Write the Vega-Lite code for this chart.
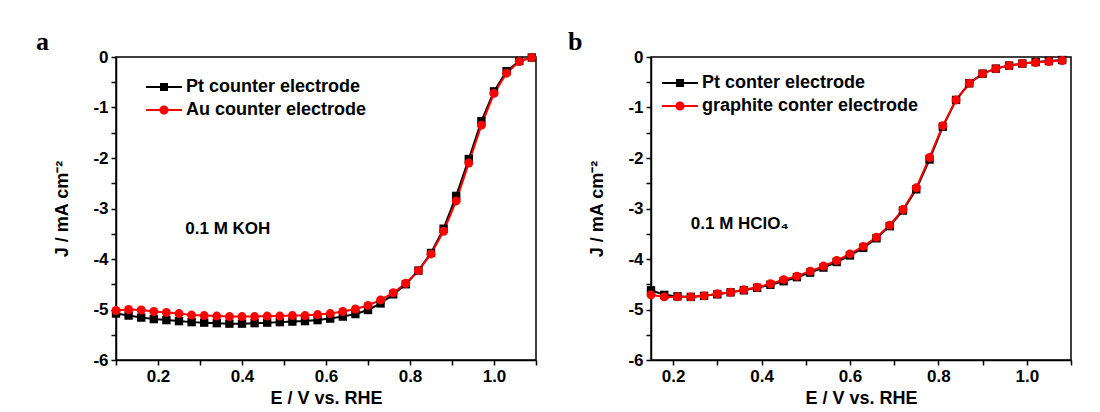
{
  "$schema": "https://vega.github.io/schema/vega-lite/v6.json",
  "background": "white",
  "autosize": {"type": "pad"},
  "padding": {"left": 35, "top": 28, "right": 5, "bottom": 0},
  "spacing": 115,
  "bounds": "flush",
  "resolve": {"scale": {"color": "independent", "x": "independent", "y": "independent"}, "legend": {"color": "independent"}},
  "config": {
    "font": "Liberation Sans",
    "view": {"stroke": "black", "strokeWidth": 1.5},
    "axis": {"grid": false, "domainColor": "black", "domainWidth": 1.5, "tickColor": "black", "tickWidth": 1.5, "tickSize": 5,
      "labelFont": "Liberation Sans", "labelFontWeight": "bold", "labelFontSize": 17, "labelColor": "black", "labelPadding": 3,
      "titleFont": "Liberation Sans", "titleFontWeight": "bold", "titleFontSize": 18, "titleColor": "black",
      "labelOverlap": false, "labelFlush": false},
    "legend": {"labelFont": "Liberation Sans", "labelFontWeight": "bold", "labelFontSize": 18, "labelColor": "black", "labelLimit": 500, "symbolSize": 400, "symbolStrokeWidth": 0, "rowPadding": 4, "labelOffset": 12, "padding": 0}
  },
  "hconcat": [
    {
      "width": 420, "height": 303,
      "title": {"text": "a", "anchor": "start", "frame": "group", "dx": -80, "offset": -7, "font": "Liberation Serif", "fontSize": 26, "fontWeight": "bold", "color": "black"},
      "data": {"values": [
        {"E":0.10,"J":-5.08,"s":"Pt counter electrode"},{"E":0.13,"J":-5.12,"s":"Pt counter electrode"},{"E":0.16,"J":-5.16,"s":"Pt counter electrode"},{"E":0.19,"J":-5.19,"s":"Pt counter electrode"},{"E":0.22,"J":-5.21,"s":"Pt counter electrode"},{"E":0.25,"J":-5.23,"s":"Pt counter electrode"},{"E":0.28,"J":-5.25,"s":"Pt counter electrode"},{"E":0.31,"J":-5.26,"s":"Pt counter electrode"},{"E":0.34,"J":-5.27,"s":"Pt counter electrode"},{"E":0.37,"J":-5.28,"s":"Pt counter electrode"},{"E":0.40,"J":-5.28,"s":"Pt counter electrode"},{"E":0.43,"J":-5.27,"s":"Pt counter electrode"},{"E":0.46,"J":-5.26,"s":"Pt counter electrode"},{"E":0.49,"J":-5.25,"s":"Pt counter electrode"},{"E":0.52,"J":-5.24,"s":"Pt counter electrode"},{"E":0.55,"J":-5.23,"s":"Pt counter electrode"},{"E":0.58,"J":-5.21,"s":"Pt counter electrode"},{"E":0.61,"J":-5.18,"s":"Pt counter electrode"},{"E":0.64,"J":-5.14,"s":"Pt counter electrode"},{"E":0.67,"J":-5.09,"s":"Pt counter electrode"},{"E":0.70,"J":-5.01,"s":"Pt counter electrode"},{"E":0.73,"J":-4.88,"s":"Pt counter electrode"},{"E":0.76,"J":-4.70,"s":"Pt counter electrode"},{"E":0.79,"J":-4.50,"s":"Pt counter electrode"},{"E":0.82,"J":-4.23,"s":"Pt counter electrode"},{"E":0.85,"J":-3.88,"s":"Pt counter electrode"},{"E":0.88,"J":-3.40,"s":"Pt counter electrode"},{"E":0.91,"J":-2.75,"s":"Pt counter electrode"},{"E":0.94,"J":-2.02,"s":"Pt counter electrode"},{"E":0.97,"J":-1.27,"s":"Pt counter electrode"},{"E":1.00,"J":-0.68,"s":"Pt counter electrode"},{"E":1.03,"J":-0.28,"s":"Pt counter electrode"},{"E":1.06,"J":-0.08,"s":"Pt counter electrode"},{"E":1.09,"J":-0.01,"s":"Pt counter electrode"},
        {"E":0.10,"J":-5.02,"s":"Au counter electrode"},{"E":0.13,"J":-5.00,"s":"Au counter electrode"},{"E":0.16,"J":-5.01,"s":"Au counter electrode"},{"E":0.19,"J":-5.04,"s":"Au counter electrode"},{"E":0.22,"J":-5.06,"s":"Au counter electrode"},{"E":0.25,"J":-5.08,"s":"Au counter electrode"},{"E":0.28,"J":-5.11,"s":"Au counter electrode"},{"E":0.31,"J":-5.12,"s":"Au counter electrode"},{"E":0.34,"J":-5.13,"s":"Au counter electrode"},{"E":0.37,"J":-5.14,"s":"Au counter electrode"},{"E":0.40,"J":-5.14,"s":"Au counter electrode"},{"E":0.43,"J":-5.14,"s":"Au counter electrode"},{"E":0.46,"J":-5.13,"s":"Au counter electrode"},{"E":0.49,"J":-5.13,"s":"Au counter electrode"},{"E":0.52,"J":-5.12,"s":"Au counter electrode"},{"E":0.55,"J":-5.12,"s":"Au counter electrode"},{"E":0.58,"J":-5.10,"s":"Au counter electrode"},{"E":0.61,"J":-5.08,"s":"Au counter electrode"},{"E":0.64,"J":-5.04,"s":"Au counter electrode"},{"E":0.67,"J":-4.99,"s":"Au counter electrode"},{"E":0.70,"J":-4.92,"s":"Au counter electrode"},{"E":0.73,"J":-4.81,"s":"Au counter electrode"},{"E":0.76,"J":-4.67,"s":"Au counter electrode"},{"E":0.79,"J":-4.48,"s":"Au counter electrode"},{"E":0.82,"J":-4.23,"s":"Au counter electrode"},{"E":0.85,"J":-3.90,"s":"Au counter electrode"},{"E":0.88,"J":-3.45,"s":"Au counter electrode"},{"E":0.91,"J":-2.85,"s":"Au counter electrode"},{"E":0.94,"J":-2.10,"s":"Au counter electrode"},{"E":0.97,"J":-1.35,"s":"Au counter electrode"},{"E":1.00,"J":-0.72,"s":"Au counter electrode"},{"E":1.03,"J":-0.32,"s":"Au counter electrode"},{"E":1.06,"J":-0.09,"s":"Au counter electrode"},{"E":1.09,"J":-0.01,"s":"Au counter electrode"}
      ]},
      "encoding": {
        "x": {"field": "E", "type": "quantitative", "scale": {"domain": [0.1, 1.1], "nice": false, "zero": false},
          "axis": {"title": "E / V vs. RHE", "titlePadding": 5, "values": [0.1,0.2,0.3,0.4,0.5,0.6,0.7,0.8,0.9,1.0,1.1],
            "labelExpr": "indexof(['0.2','0.4','0.6','0.8','1.0'], format(datum.value, '.1f')) >= 0 ? format(datum.value, '.1f') : ''"}},
        "y": {"field": "J", "type": "quantitative", "scale": {"domain": [-6, 0], "nice": false, "zero": false},
          "axis": {"title": "J / mA cm⁻²", "titlePadding": 21, "values": [0,-0.5,-1,-1.5,-2,-2.5,-3,-3.5,-4,-4.5,-5,-5.5,-6],
            "labelExpr": "datum.value % 1 === 0 ? (datum.value === 0 ? '0' : '-' + abs(datum.value)) : ''"}},
        "color": {"field": "s", "type": "nominal", "scale": {"domain": ["Pt counter electrode", "Au counter electrode"], "range": ["black", "red"]},
          "legend": {"title": null, "orient": "none", "legendX": 38, "legendY": 20,
            "encode": {"symbols": {"update": {
              "shape": {"signal": "indexof(datum.value, 'Pt') === 0 ? 'M-1.8,-0.1H1.8V0.1H-1.8Z M-0.4,-0.4H0.4V0.4H-0.4Z' : 'M-1.8,-0.1H1.8V0.1H-1.8Z M0.46,0A0.46,0.46 0 1,1 -0.46,0A0.46,0.46 0 1,1 0.46,0Z'"},
              "fill": {"signal": "indexof(datum.value, 'Pt') === 0 ? 'black' : 'red'"},
              "stroke": {"value": "transparent"}, "opacity": {"value": 1}}}}}}
      },
      "layer": [
        {"mark": {"type": "line", "strokeWidth": 2}},
        {"transform": [{"filter": "datum.s === 'Pt counter electrode'"}],
          "mark": {"type": "point", "shape": "square", "filled": true, "size": 70, "opacity": 1}},
        {"transform": [{"filter": "datum.s === 'Au counter electrode'"}],
          "mark": {"type": "point", "shape": "circle", "filled": true, "size": 80, "opacity": 1}},
        {"data": {"values": [{"E": 0.265, "J": -3.4, "t": "0.1 M KOH"}]},
          "mark": {"type": "text", "align": "left", "baseline": "middle", "font": "Liberation Sans", "fontWeight": "bold", "fontSize": 17, "color": "black"},
          "encoding": {"text": {"field": "t"}, "color": {"value": "black"}}}
      ]
    },
    {
      "width": 420, "height": 303,
      "title": {"text": "b", "anchor": "start", "frame": "group", "dx": -83, "offset": -7, "font": "Liberation Serif", "fontSize": 26, "fontWeight": "bold", "color": "black"},
      "data": {"values": [
        {"E":0.15,"J":-4.62,"s":"Pt conter electrode"},{"E":0.18,"J":-4.71,"s":"Pt conter electrode"},{"E":0.21,"J":-4.74,"s":"Pt conter electrode"},{"E":0.24,"J":-4.75,"s":"Pt conter electrode"},{"E":0.27,"J":-4.73,"s":"Pt conter electrode"},{"E":0.30,"J":-4.70,"s":"Pt conter electrode"},{"E":0.33,"J":-4.66,"s":"Pt conter electrode"},{"E":0.36,"J":-4.62,"s":"Pt conter electrode"},{"E":0.39,"J":-4.57,"s":"Pt conter electrode"},{"E":0.42,"J":-4.51,"s":"Pt conter electrode"},{"E":0.45,"J":-4.44,"s":"Pt conter electrode"},{"E":0.48,"J":-4.36,"s":"Pt conter electrode"},{"E":0.51,"J":-4.27,"s":"Pt conter electrode"},{"E":0.54,"J":-4.17,"s":"Pt conter electrode"},{"E":0.57,"J":-4.06,"s":"Pt conter electrode"},{"E":0.60,"J":-3.93,"s":"Pt conter electrode"},{"E":0.63,"J":-3.78,"s":"Pt conter electrode"},{"E":0.66,"J":-3.59,"s":"Pt conter electrode"},{"E":0.69,"J":-3.35,"s":"Pt conter electrode"},{"E":0.72,"J":-3.04,"s":"Pt conter electrode"},{"E":0.75,"J":-2.62,"s":"Pt conter electrode"},{"E":0.78,"J":-2.03,"s":"Pt conter electrode"},{"E":0.81,"J":-1.38,"s":"Pt conter electrode"},{"E":0.84,"J":-0.85,"s":"Pt conter electrode"},{"E":0.87,"J":-0.52,"s":"Pt conter electrode"},{"E":0.90,"J":-0.33,"s":"Pt conter electrode"},{"E":0.93,"J":-0.23,"s":"Pt conter electrode"},{"E":0.96,"J":-0.17,"s":"Pt conter electrode"},{"E":0.99,"J":-0.13,"s":"Pt conter electrode"},{"E":1.02,"J":-0.10,"s":"Pt conter electrode"},{"E":1.05,"J":-0.08,"s":"Pt conter electrode"},{"E":1.08,"J":-0.06,"s":"Pt conter electrode"},
        {"E":0.15,"J":-4.71,"s":"graphite conter electrode"},{"E":0.18,"J":-4.75,"s":"graphite conter electrode"},{"E":0.21,"J":-4.75,"s":"graphite conter electrode"},{"E":0.24,"J":-4.75,"s":"graphite conter electrode"},{"E":0.27,"J":-4.73,"s":"graphite conter electrode"},{"E":0.30,"J":-4.69,"s":"graphite conter electrode"},{"E":0.33,"J":-4.66,"s":"graphite conter electrode"},{"E":0.36,"J":-4.61,"s":"graphite conter electrode"},{"E":0.39,"J":-4.56,"s":"graphite conter electrode"},{"E":0.42,"J":-4.49,"s":"graphite conter electrode"},{"E":0.45,"J":-4.41,"s":"graphite conter electrode"},{"E":0.48,"J":-4.34,"s":"graphite conter electrode"},{"E":0.51,"J":-4.24,"s":"graphite conter electrode"},{"E":0.54,"J":-4.14,"s":"graphite conter electrode"},{"E":0.57,"J":-4.03,"s":"graphite conter electrode"},{"E":0.60,"J":-3.90,"s":"graphite conter electrode"},{"E":0.63,"J":-3.75,"s":"graphite conter electrode"},{"E":0.66,"J":-3.57,"s":"graphite conter electrode"},{"E":0.69,"J":-3.33,"s":"graphite conter electrode"},{"E":0.72,"J":-3.02,"s":"graphite conter electrode"},{"E":0.75,"J":-2.59,"s":"graphite conter electrode"},{"E":0.78,"J":-1.99,"s":"graphite conter electrode"},{"E":0.81,"J":-1.36,"s":"graphite conter electrode"},{"E":0.84,"J":-0.85,"s":"graphite conter electrode"},{"E":0.87,"J":-0.52,"s":"graphite conter electrode"},{"E":0.90,"J":-0.33,"s":"graphite conter electrode"},{"E":0.93,"J":-0.23,"s":"graphite conter electrode"},{"E":0.96,"J":-0.17,"s":"graphite conter electrode"},{"E":0.99,"J":-0.13,"s":"graphite conter electrode"},{"E":1.02,"J":-0.11,"s":"graphite conter electrode"},{"E":1.05,"J":-0.09,"s":"graphite conter electrode"},{"E":1.08,"J":-0.07,"s":"graphite conter electrode"}
      ]},
      "encoding": {
        "x": {"field": "E", "type": "quantitative", "scale": {"domain": [0.15, 1.1], "nice": false, "zero": false},
          "axis": {"title": "E / V vs. RHE", "titlePadding": 5, "values": [0.2,0.3,0.4,0.5,0.6,0.7,0.8,0.9,1.0,1.1],
            "labelExpr": "indexof(['0.2','0.4','0.6','0.8','1.0'], format(datum.value, '.1f')) >= 0 ? format(datum.value, '.1f') : ''"}},
        "y": {"field": "J", "type": "quantitative", "scale": {"domain": [-6, 0], "nice": false, "zero": false},
          "axis": {"title": "J / mA cm⁻²", "titlePadding": 21, "values": [0,-0.5,-1,-1.5,-2,-2.5,-3,-3.5,-4,-4.5,-5,-5.5,-6],
            "labelExpr": "datum.value % 1 === 0 ? (datum.value === 0 ? '0' : '-' + abs(datum.value)) : ''"}},
        "color": {"field": "s", "type": "nominal", "scale": {"domain": ["Pt conter electrode", "graphite conter electrode"], "range": ["black", "red"]},
          "legend": {"title": null, "orient": "none", "legendX": 19, "legendY": 16,
            "encode": {"symbols": {"update": {
              "shape": {"signal": "indexof(datum.value, 'Pt') === 0 ? 'M-1.8,-0.1H1.8V0.1H-1.8Z M-0.4,-0.4H0.4V0.4H-0.4Z' : 'M-1.8,-0.1H1.8V0.1H-1.8Z M0.46,0A0.46,0.46 0 1,1 -0.46,0A0.46,0.46 0 1,1 0.46,0Z'"},
              "fill": {"signal": "indexof(datum.value, 'Pt') === 0 ? 'black' : 'red'"},
              "stroke": {"value": "transparent"}, "opacity": {"value": 1}}}}}}
      },
      "layer": [
        {"mark": {"type": "line", "strokeWidth": 2}},
        {"transform": [{"filter": "datum.s === 'Pt conter electrode'"}],
          "mark": {"type": "point", "shape": "square", "filled": true, "size": 70, "opacity": 1}},
        {"transform": [{"filter": "datum.s === 'graphite conter electrode'"}],
          "mark": {"type": "point", "shape": "circle", "filled": true, "size": 80, "opacity": 1}},
        {"data": {"values": [{"E": 0.24, "J": -3.3, "t": "0.1 M HClO₄"}]},
          "mark": {"type": "text", "align": "left", "baseline": "middle", "font": "Liberation Sans", "fontWeight": "bold", "fontSize": 17, "color": "black"},
          "encoding": {"text": {"field": "t"}, "color": {"value": "black"}}}
      ]
    }
  ]
}
